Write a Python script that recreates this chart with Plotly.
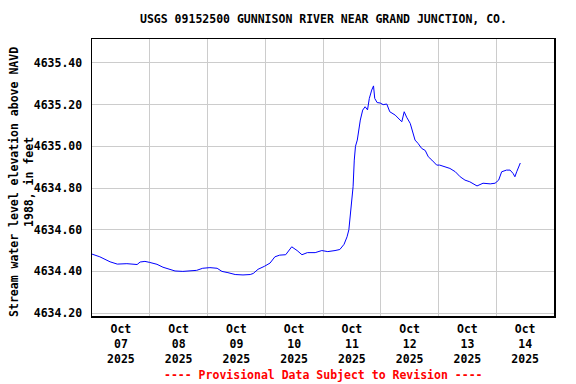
import plotly.graph_objects as go

times = [
    "2025-10-07 00:00", "2025-10-07 03:15", "2025-10-07 07:30", "2025-10-07 10:30",
    "2025-10-07 14:30", "2025-10-07 18:45", "2025-10-07 20:00", "2025-10-07 22:00",
    "2025-10-08 00:00", "2025-10-08 03:00", "2025-10-08 05:30", "2025-10-08 08:30",
    "2025-10-08 10:30", "2025-10-08 13:45", "2025-10-08 16:45", "2025-10-08 19:30",
    "2025-10-08 22:00", "2025-10-09 01:00", "2025-10-09 04:00", "2025-10-09 06:00",
    "2025-10-09 08:30", "2025-10-09 11:30", "2025-10-09 14:45", "2025-10-09 17:45",
    "2025-10-09 19:00", "2025-10-09 21:00", "2025-10-09 23:45", "2025-10-10 02:00",
    "2025-10-10 04:00", "2025-10-10 06:00", "2025-10-10 08:30", "2025-10-10 10:15",
    "2025-10-10 11:00", "2025-10-10 13:15", "2025-10-10 15:15", "2025-10-10 17:30",
    "2025-10-10 20:45", "2025-10-10 23:30", "2025-10-11 02:00", "2025-10-11 05:00",
    "2025-10-11 07:00", "2025-10-11 08:45", "2025-10-11 10:00", "2025-10-11 10:45",
    "2025-10-11 11:30", "2025-10-11 12:30", "2025-10-11 13:00", "2025-10-11 13:30",
    "2025-10-11 14:15", "2025-10-11 15:30", "2025-10-11 16:30", "2025-10-11 17:30",
    "2025-10-11 18:30", "2025-10-11 19:15", "2025-10-11 20:15", "2025-10-11 21:00",
    "2025-10-11 21:30", "2025-10-11 22:30", "2025-10-11 23:45", "2025-10-12 01:00",
    "2025-10-12 02:30", "2025-10-12 03:45", "2025-10-12 06:00", "2025-10-12 08:00",
    "2025-10-12 08:45", "2025-10-12 09:45", "2025-10-12 10:45", "2025-10-12 12:15",
    "2025-10-12 13:15", "2025-10-12 14:15", "2025-10-12 15:30", "2025-10-12 17:00",
    "2025-10-12 18:30", "2025-10-12 19:45", "2025-10-12 21:15", "2025-10-12 23:15",
    "2025-10-13 00:30", "2025-10-13 02:45", "2025-10-13 04:45", "2025-10-13 07:00",
    "2025-10-13 09:00", "2025-10-13 11:00", "2025-10-13 13:00", "2025-10-13 16:00",
    "2025-10-13 18:30", "2025-10-13 21:30", "2025-10-13 23:30", "2025-10-14 01:00",
    "2025-10-14 02:15", "2025-10-14 04:15", "2025-10-14 05:45", "2025-10-14 07:00",
    "2025-10-14 07:45", "2025-10-14 08:30", "2025-10-14 09:15", "2025-10-14 10:00",
]

elevation_ft = [
    4634.483, 4634.470, 4634.446, 4634.435,
    4634.437, 4634.433, 4634.445, 4634.448,
    4634.443, 4634.434, 4634.420, 4634.410,
    4634.402, 4634.400, 4634.402, 4634.405,
    4634.415, 4634.418, 4634.415, 4634.400,
    4634.394, 4634.385, 4634.383, 4634.385,
    4634.390, 4634.410, 4634.425, 4634.440,
    4634.470, 4634.478, 4634.480, 4634.510,
    4634.518, 4634.500, 4634.480, 4634.490,
    4634.490, 4634.500, 4634.495, 4634.500,
    4634.505, 4634.530, 4634.566, 4634.600,
    4634.680, 4634.806, 4634.934, 4635.000,
    4635.030, 4635.126, 4635.174, 4635.190,
    4635.175, 4635.230, 4635.270, 4635.290,
    4635.230, 4635.210, 4635.208, 4635.200,
    4635.203, 4635.166, 4635.150, 4635.126,
    4635.118, 4635.166, 4635.140, 4635.110,
    4635.070, 4635.030, 4635.014, 4634.990,
    4634.980, 4634.950, 4634.934, 4634.910,
    4634.910, 4634.900, 4634.894, 4634.878,
    4634.854, 4634.838, 4634.830, 4634.810,
    4634.823, 4634.820, 4634.823, 4634.838,
    4634.878, 4634.886, 4634.886, 4634.870,
    4634.854, 4634.878, 4634.900, 4634.920,
]

y_ticks = [4634.2, 4634.4, 4634.6, 4634.8, 4635.0, 4635.2, 4635.4]

title_text = "USGS 09152500 GUNNISON RIVER NEAR GRAND JUNCTION, CO."
y_title = "Stream water level elevation above NAVD<br>1988, in feet"
footer = "---- Provisional Data Subject to Revision ----"

FONT = "DejaVu Sans Mono"
FS = 11.5

fig = go.Figure()
fig.add_trace(go.Scatter(
    x=times, y=elevation_ft, mode="lines",
    line=dict(color="#0000FF", width=1),
    showlegend=False, hoverinfo="skip",
))

fig.update_layout(
    width=576, height=384,
    margin=dict(l=92, r=22, t=39, b=68, autoexpand=False),
    paper_bgcolor="white", plot_bgcolor="white",
    font=dict(family=FONT, size=FS, color="black", weight="bold"),
    showlegend=False,
)

fig.update_xaxes(
    type="date",
    range=["2025-10-07", "2025-10-15"],
    tick0="2025-10-07", dtick=86400000,
    ticklabelmode="period",
    tickformat="%b<br>%d<br>%Y",
    showgrid=True, gridcolor="#CCCCCC", gridwidth=1,
    showline=True, linecolor="black", linewidth=1.5, mirror=True,
    ticks="", zeroline=False, automargin=False,
    ticklabelstandoff=2,
    tickfont=dict(family=FONT, size=FS, color="black", weight="bold"),
)

fig.update_yaxes(
    range=[4634.186, 4635.515],
    tickvals=y_ticks, tickformat=".2f",
    showgrid=True, gridcolor="#CCCCCC", gridwidth=1,
    showline=True, linecolor="black", linewidth=1.5, mirror=True,
    ticks="", zeroline=False, automargin=False,
    ticklabelstandoff=6,
    tickfont=dict(family=FONT, size=FS, color="black", weight="bold"),
)

fig.add_annotation(
    text=title_text, xref="paper", yref="paper", x=0.5, y=1 + 20 / 277,
    xanchor="center", yanchor="middle", showarrow=False,
    font=dict(family=FONT, size=FS, color="black", weight="bold"),
)
fig.add_annotation(
    text=y_title, xref="paper", yref="paper", x=-70 / 462, y=0.484,
    xanchor="center", yanchor="middle", showarrow=False, textangle=-90,
    font=dict(family=FONT, size=FS, color="black", weight="bold"),
)
fig.add_annotation(
    text=footer, xref="paper", yref="paper", x=0.5, y=-59 / 277,
    xanchor="center", yanchor="middle", showarrow=False,
    font=dict(family=FONT, size=FS, color="#FF0000", weight="bold"),
)

fig.write_html(
    "out.html",
    config={"displayModeBar": False, "staticPlot": True},
    post_script="document.body.style.margin='0';",
)
